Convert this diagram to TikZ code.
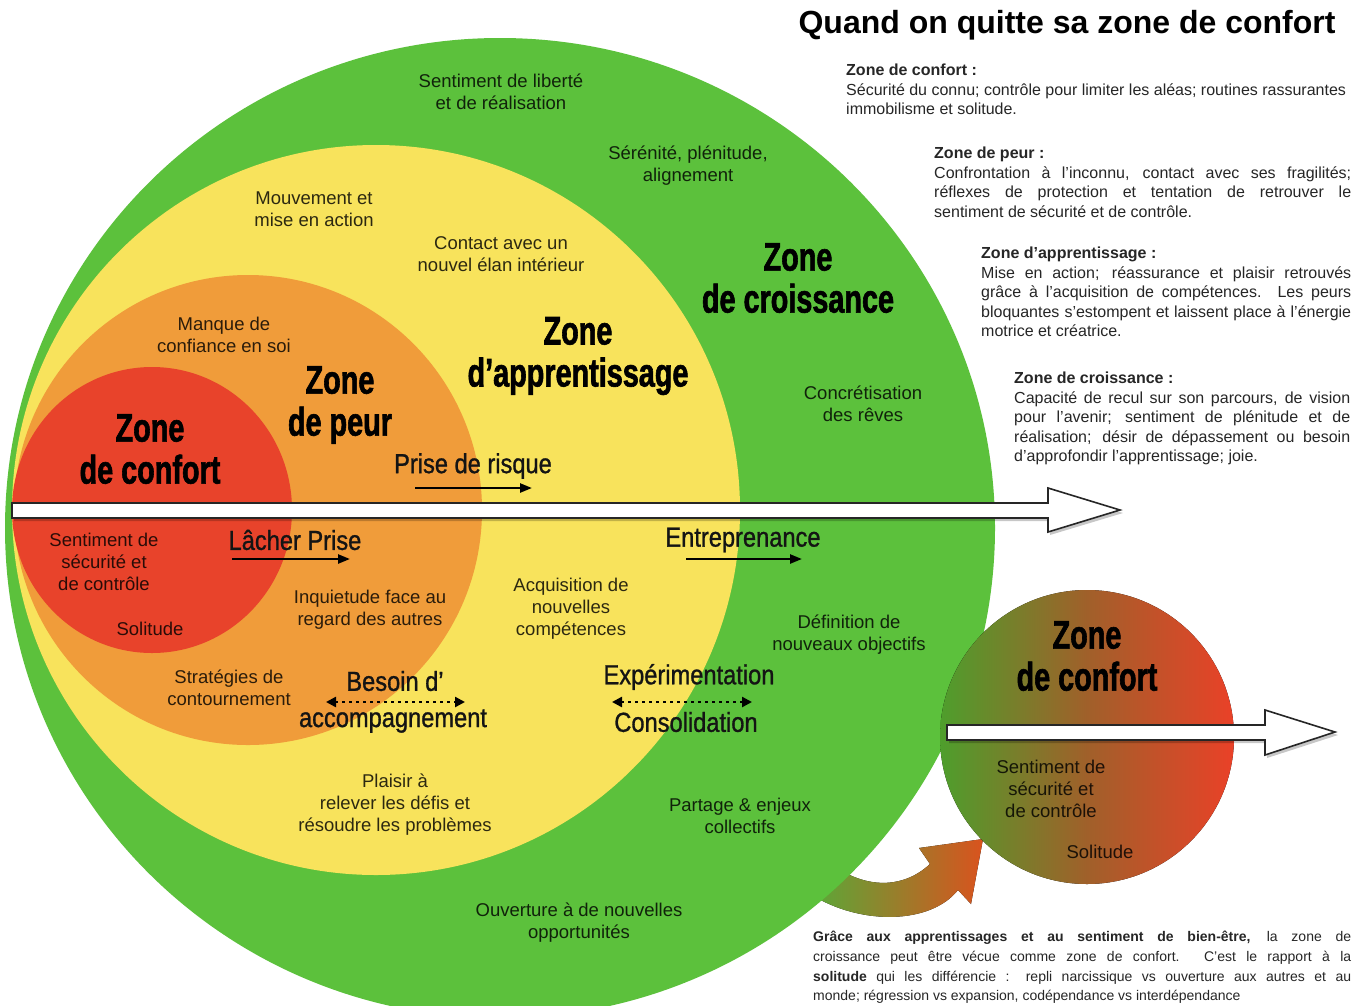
\documentclass[tikz,border=0pt]{standalone}
\usepackage{fontspec}
\setmainfont{Liberation Sans}
\newfontfamily\zonefont[FakeStretch=0.72,FakeBold=1.5]{Liberation Sans}
\newfontfamily\lblfont[FakeStretch=0.86,FakeBold=1]{Liberation Sans}
\usetikzlibrary{arrows.meta}
\definecolor{cgreen}{HTML}{5CC13C}
\definecolor{cyellow}{HTML}{F8E35C}
\definecolor{corange}{HTML}{F09C3A}
\definecolor{cred}{HTML}{E8432B}
\definecolor{sgreen}{HTML}{4E9E2C}
\definecolor{sbrown}{HTML}{A0602A}
\definecolor{sred}{HTML}{EA4128}
\definecolor{carrowa}{HTML}{5AA838}
\definecolor{carrowb}{HTML}{D9531E}
\newcommand\jl[2]{\hbox to #1pt{#2}}
\begin{document}
\begin{tikzpicture}[x=1pt,y=-1pt,
  body/.style={align=center, font=\fontsize{18.5}{22}\selectfont, text=black, text opacity=0.82, inner sep=0pt},
  zone/.style={align=center, font=\zonefont\bfseries\fontsize{40}{42}\selectfont, inner sep=0pt},
  lbl/.style={font=\lblfont\fontsize{27.5}{30}\selectfont, inner sep=0pt, text=black!92},
  para/.style={align=left, anchor=north west, font=\fontsize{16}{19.5}\selectfont, inner sep=0pt, text=black!85},
  harrow/.style={-{Triangle[length=12pt,width=9pt]}, line width=2.4pt},
  darrow/.style={{Triangle[length=10pt,width=10pt]}-{Triangle[length=10pt,width=10pt]}, line width=2.4pt, dash pattern=on 2.4pt off 4.6pt},
  bigarrow/.style={fill=white, draw=black!85, line width=1.6pt, line join=miter}
]
\useasboundingbox (0,0) rectangle (1355,1005);
\fill[white] (0,0) rectangle (1355,1005);

% curved arrow (behind the big shape)
\fill[left color=carrowa, right color=carrowb]
  (815,850) .. controls (855,890) and (900,892) .. (930,864) -- (919,848) -- (983,839)
  -- (971,904) -- (958,890) .. controls (930,925) and (860,925) .. (812,895) -- cycle;

% nested zones
\fill[cgreen]  (500,528) ellipse [x radius=495pt, y radius=490pt];
\fill[cyellow] (376,510) ellipse [x radius=364pt, y radius=365pt];
\fill[corange] (248,510) ellipse [x radius=234pt, y radius=235pt];
\fill[cred]    (152,510) ellipse [x radius=140pt, y radius=143pt];

% small circle
\fill[left color=sgreen, right color=sred, middle color=sbrown] (1087,737) circle [radius=147pt];

% big arrow
\fill[black, opacity=0.22] (14,506) -- (1050,506) -- (1050,491) -- (1123,513) -- (1050,535) -- (1050,521) -- (14,521) -- cycle;
\path[bigarrow] (12,503) -- (1048,503) -- (1048,488) -- (1120,510) -- (1048,532) -- (1048,518) -- (12,518) -- cycle;
% small arrow
\fill[black, opacity=0.22] (949,728) -- (1267,728) -- (1267,713) -- (1338,735) -- (1267,758) -- (1267,743) -- (949,743) -- cycle;
\path[bigarrow] (947,725) -- (1265,725) -- (1265,710) -- (1335,732) -- (1265,755) -- (1265,740) -- (947,740) -- cycle;

% zone titles
\node[zone] (zconf) at (150,449) {Zone\\de confort};
\node[zone] (zpeur) at (340,405) {Zone\\de peur};
\node[zone] (zapp) at (578,356) {Zone\\d’apprentissage};
\node[zone] (zcroi) at (798,278) {Zone\\de croissance};
\node[zone] (zconf2) at (1087,656) {Zone\\de confort};

% green zone texts
\node[body] (t1) at (501,92) {Sentiment de liberté\\et de réalisation};
\node[body] (t2) at (688,166) {Sérénité, plénitude,\\alignement};
\node[body] (t3) at (863,404) {Concrétisation\\des rêves};
\node[body] (t4) at (849,635) {Définition de\\nouveaux objectifs};
\node[body] (t5) at (740,816) {Partage \& enjeux\\collectifs};
\node[body] (t6) at (579,923) {Ouverture à de nouvelles\\opportunités};
% yellow zone texts
\node[body] (t7) at (314,209) {Mouvement et\\mise en action};
\node[body] (t8) at (501,254) {Contact avec un\\nouvel élan intérieur};
\node[body] (t9) at (571,609) {Acquisition de\\nouvelles\\compétences};
\node[body] (t10) at (395,805) {Plaisir à\\relever les défis et\\résoudre les problèmes};
% orange zone texts
\node[body] (t11) at (224,335) {Manque de\\confiance en soi};
\node[body] (t12) at (370,610) {Inquietude face au\\regard des autres};
\node[body] (t13) at (229,688) {Stratégies de\\contournement};
% red zone texts
\node[body] (t14) at (104,562) {Sentiment de\\sécurité et\\de contrôle};
\node[body] (t15) at (150,629) {Solitude};
% small circle texts
\node[body] (t16) at (1051,789) {Sentiment de\\sécurité et\\de contrôle};
\node[body] (t17) at (1100,852) {Solitude};

% labels and small arrows
\node[lbl] (lrisk) at (473,466) {Prise de risque};
\coordinate (ra) at (415,488); \coordinate (rb) at (532,488);
\draw[harrow] (ra) -- (rb);
\node[lbl] (llach) at (295,540) {Lâcher Prise};
\coordinate (la) at (232,559); \coordinate (lb) at (350,559);
\draw[harrow] (la) -- (lb);
\node[lbl] (lentr) at (743,540) {Entreprenance};
\coordinate (ea) at (686,559); \coordinate (eb) at (802,559);
\draw[harrow] (ea) -- (eb);
\node[lbl] (lbes) at (395,681) {Besoin d’};
\node[lbl] (lacc) at (393,721) {accompagnement};
\coordinate (ba) at (326,702); \coordinate (bb) at (465,702);
\draw[darrow] (ba) -- (bb);
\node[lbl] (lexp) at (689,677) {Expérimentation};
\node[lbl] (lcons) at (686,722) {Consolidation};
\coordinate (xa) at (612,702); \coordinate (xb) at (752,702);
\draw[darrow] (xa) -- (xb);

% right-hand texts
\node[anchor=base, font=\bfseries\fontsize{32}{36}\selectfont, inner sep=0pt] (title) at (1067,33) {Quand on quitte sa zone de confort};

\node[para] (pconf) at (846,64) {\textbf{Zone de confort :}\\
Sécurité du connu; contrôle pour limiter les aléas; routines rassurantes\\
immobilisme et solitude.};

\node[para] (ppeur) at (934,147) {\textbf{Zone de peur :}\\
\jl{417}{Confrontation à l’inconnu, contact avec ses fragilités;}\\
\jl{417}{réflexes de protection et tentation de retrouver le}\\
sentiment de sécurité et de contrôle.};

\node[para] (papp) at (981,247) {\textbf{Zone d’apprentissage :}\\
\jl{370}{Mise en action; réassurance et plaisir retrouvés}\\
\jl{370}{grâce à l’acquisition de compétences. Les peurs}\\
\jl{370}{bloquantes s’estompent et laissent place à l’énergie}\\
motrice et créatrice.};

\node[para] (pcroi) at (1014,372) {\textbf{Zone de croissance :}\\
\jl{336}{Capacité de recul sur son parcours, de vision}\\
\jl{336}{pour l’avenir; sentiment de plénitude et de}\\
\jl{336}{réalisation; désir de dépassement ou besoin}\\
d’approfondir l’apprentissage; joie.};

\node[para, font=\fontsize{14}{19.7}\selectfont] (pbot) at (813,931) {%
\jl{538}{\textbf{Grâce aux apprentissages et au sentiment de bien-être,} la zone de}\\
\jl{538}{croissance peut être vécue comme zone de confort. C’est le rapport à la}\\
\jl{538}{\textbf{solitude} qui les différencie : repli narcissique vs ouverture aux autres et au}\\
monde; régression vs expansion, codépendance vs interdépendance};
\end{tikzpicture}
\end{document}
